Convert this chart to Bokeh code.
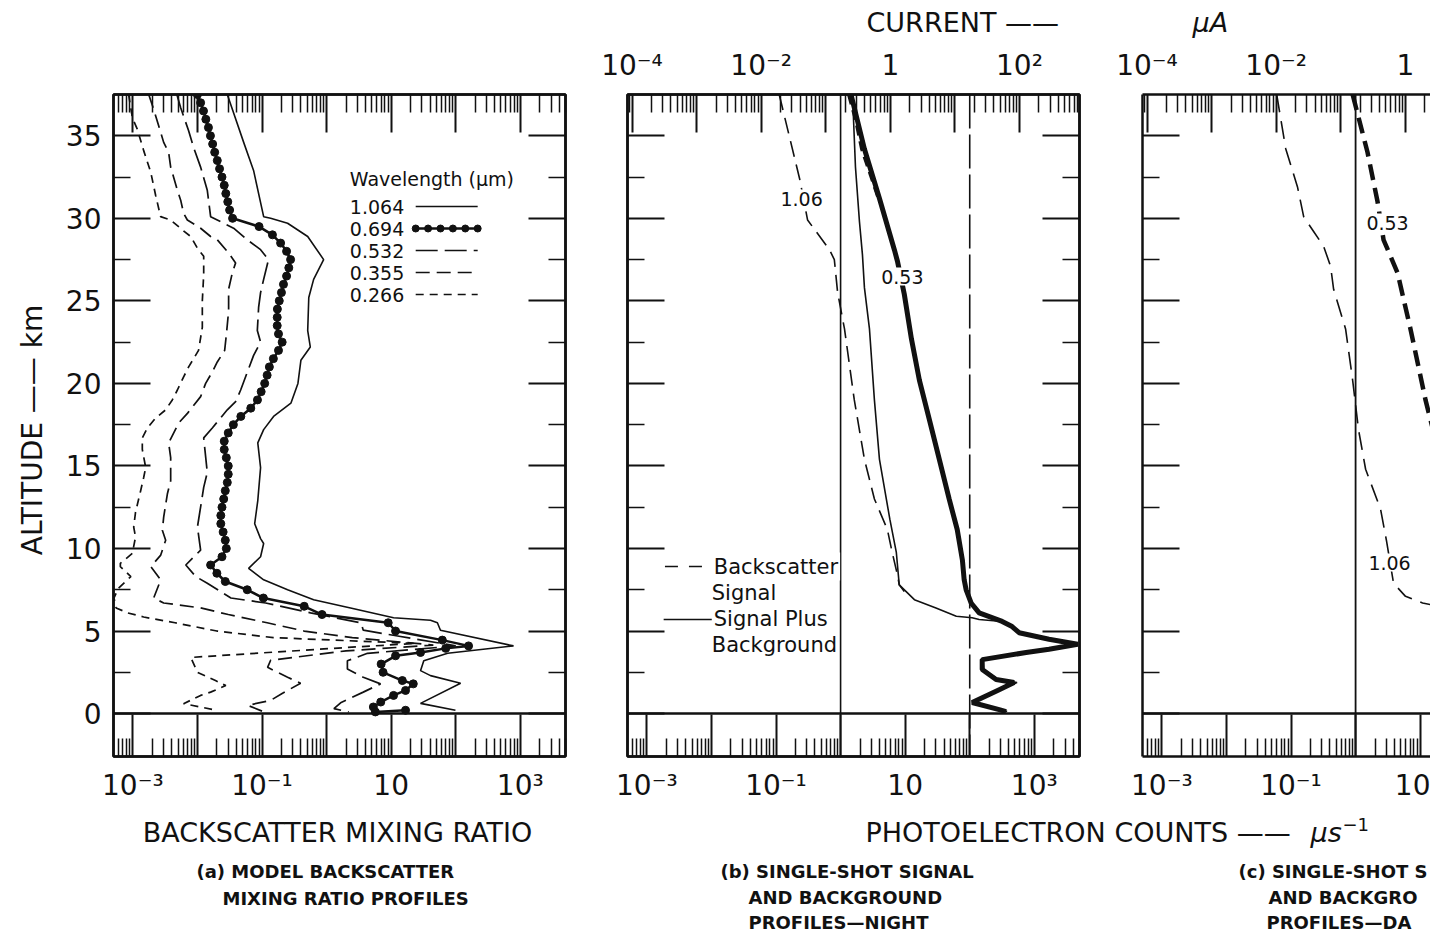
from bokeh.plotting import figure
from bokeh.models import (Range1d, LogAxis, LinearAxis, FixedTicker, CustomJSTickFormatter,
                          Span, Label, LogScale)
from bokeh.layouts import column, row
from bokeh.embed import file_html
from bokeh.resources import INLINE

FONT = "DejaVu Sans"
INK = "#111111"

# ---------------- data ----------------
# (a) model backscatter mixing ratio profiles: altitude (km) and mixing ratio
alt_1064 = [37.5, 34.6, 32.9, 30.1, 30.0, 29.7, 28.9, 27.5, 26.3, 25.2, 23.2, 22.2, 21.4, 20.0,
            18.8, 18.0, 17.2, 16.4, 14.9, 12.9, 11.5, 10.6, 10.3, 9.5, 8.8, 8.1, 7.5, 6.9, 6.4,
            5.8, 5.65, 5.5, 5.05, 4.1, 3.65, 3.2, 2.6, 2.3, 1.84, 0.62, 0.2]
ratio_1064 = [0.029, 0.052, 0.074, 0.106, 0.136, 0.249, 0.51, 0.90, 0.63, 0.53, 0.51, 0.56, 0.40,
              0.36, 0.28, 0.151, 0.106, 0.086, 0.095, 0.086, 0.077, 0.095, 0.106, 0.095, 0.062,
              0.106, 0.249, 0.63, 2.35, 10.9, 40.7, 52, 58, 785, 75, 32, 28.5, 40.7, 119, 28.5, 99]

alt_694 = [37.5, 37.0, 36.5, 36.0, 35.5, 35.0, 34.5, 34.0, 33.5, 33.0, 32.5, 32.0, 31.5, 31.0,
           30.5, 30.0, 29.5, 29.0, 28.5, 28.0, 27.5, 27.0, 26.5, 26.0, 25.5, 25.0, 24.5, 24.0,
           23.5, 23.0, 22.5, 22.0, 21.5, 21.0, 20.5, 20.0, 19.5, 19.0, 18.5, 18.0, 17.5, 17.0,
           16.5, 16.0, 15.5, 15.0, 14.5, 14.0, 13.5, 13.0, 12.5, 12.0, 11.5, 11.0, 10.5, 10.0,
           9.5, 9.0, 8.5, 8.0, 7.5, 7.0, 6.5, 6.0, 5.5, 5.0, 4.45, 4.1, 3.95, 3.7, 3.5, 3.0,
           2.5, 2.0, 1.8, 1.4, 1.1, 0.7, 0.4, 0.1, 0.2]
ratio_694 = [0.0100, 0.0112, 0.0124, 0.0135, 0.0148, 0.0159, 0.0172, 0.0185, 0.0203, 0.022,
             0.024, 0.026, 0.0275, 0.0295, 0.0315, 0.035, 0.09, 0.145, 0.194, 0.24, 0.277, 0.26,
             0.24, 0.215, 0.2, 0.185, 0.173, 0.172, 0.172, 0.18, 0.205, 0.18, 0.15, 0.13, 0.12,
             0.11, 0.097, 0.085, 0.067, 0.047, 0.036, 0.030, 0.026, 0.026, 0.028, 0.030, 0.030,
             0.029, 0.027, 0.0255, 0.024, 0.023, 0.023, 0.025, 0.027, 0.028, 0.024, 0.016, 0.020,
             0.027, 0.059, 0.105, 0.45, 0.85, 9.0, 11.7, 62, 158, 70, 28.5, 11.7, 7.0, 7.5, 14.9,
             22, 16.7, 10.9, 6.9, 5.3, 5.7, 16.7]

alt_532 = [37.5, 36.7, 35.3, 34.3, 33.1, 31.7, 30.1, 29.8, 29.4, 28.7, 28.1, 27.5, 26.3, 25.5,
           24.6, 23.2, 22.5, 21.7, 19.6, 18.9, 18.4, 17.3, 16.7, 14.6, 13.7, 11.3, 9.9, 9.0, 8.3,
           7.9, 7.0, 6.7, 6.1, 5.5, 5.05, 4.7, 4.1, 3.65, 3.2, 2.7, 2.2, 1.8, 1.3, 0.65, 0.3, 0.1]
ratio_532 = [0.0048, 0.0055, 0.0073, 0.0087, 0.0112, 0.0142, 0.016, 0.0229, 0.0363, 0.0592,
             0.095, 0.126, 0.106, 0.095, 0.0886, 0.0846, 0.095, 0.0741, 0.0467, 0.039, 0.029,
             0.017, 0.0125, 0.0142, 0.0125, 0.0100, 0.0112, 0.0066, 0.0094, 0.0142, 0.033, 0.114,
             0.565, 3.4, 3.7, 12.6, 100, 4.3, 2.1, 2.1, 3.7, 6.85, 3.7, 1.65, 1.3, 2.2]

alt_355 = [37.5, 36.6, 34.6, 34.0, 33.1, 31.7, 31.1, 30.3, 29.9, 29.4, 28.9, 28.7, 27.9, 27.3,
           26.7, 25.7, 24.4, 23.1, 22.0, 21.3, 20.7, 20.0, 19.2, 18.2, 17.6, 16.4, 15.5, 14.1,
           13.3, 11.9, 11.1, 10.5, 9.6, 8.9, 8.1, 7.0, 6.7, 6.4, 6.0, 5.5, 5.0, 4.6, 4.15, 3.8,
           3.23, 2.8, 2.2, 1.84, 1.23, 0.8, 0.5, 0.15]
ratio_355 = [0.00176, 0.0021, 0.0030, 0.00358, 0.00385, 0.00489, 0.0055, 0.00611, 0.00698, 0.0112,
             0.016, 0.0203, 0.0304, 0.039, 0.0347, 0.0304, 0.0304, 0.0283, 0.0264, 0.0203, 0.017,
             0.0134, 0.0112, 0.00705, 0.00512, 0.00358, 0.00385, 0.00385, 0.00342, 0.0030,
             0.00286, 0.00322, 0.0027, 0.0019, 0.0027, 0.0021, 0.0030, 0.0112, 0.030, 0.12, 0.45,
             2.5, 45, 2.0, 0.136, 0.122, 0.249, 0.396, 0.208, 0.136, 0.060, 0.10]

alt_266 = [37.5, 36.1, 35.4, 34.1, 32.8, 31.4, 30.1, 29.9, 29.3, 28.9, 28.2, 27.7, 26.6, 25.0,
           23.4, 22.0, 21.0, 20.4, 19.6, 19.0, 18.4, 17.9, 17.3, 16.7, 16.0, 14.9, 14.3, 13.5,
           13.0, 12.2, 11.3, 10.7, 9.7, 9.1, 8.9, 8.3, 7.6, 7.0, 6.4, 6.1, 5.85, 5.5, 5.0, 4.6,
           4.25, 4.0, 3.4, 2.5, 2.0, 1.7, 1.3, 1.1, 0.6, 0.2]
ratio_266 = [0.00086, 0.00098, 0.00117, 0.00147, 0.00189, 0.00225, 0.00269, 0.00385, 0.00583,
             0.00785, 0.00996, 0.0125, 0.0125, 0.0119, 0.0119, 0.0104, 0.00731, 0.00611, 0.00489,
             0.00408, 0.00322, 0.00225, 0.00168, 0.0014, 0.0014, 0.00158, 0.00147, 0.00132,
             0.00123, 0.0011, 0.00103, 0.0011, 0.00098, 0.00064, 0.00064, 0.00093, 0.00060,
             0.00051, 0.00055, 0.00083, 0.00147, 0.0045, 0.020, 0.15, 24, 2.0, 0.0079, 0.010,
             0.019, 0.0275, 0.016, 0.0112, 0.0061, 0.020]

wavelengths = ["1.064", "0.694", "0.532", "0.355", "0.266"]

# (b) single-shot night profiles: photoelectron counts per microsecond
alt_b_bs106 = [37.5, 32.4, 29.9, 28.1, 27.5, 25.5, 23.3, 19.0, 15.4, 13.0, 11.15, 9.76, 8.4, 7.8, 7.4]
cnt_b_bs106 = [0.112, 0.232, 0.308, 0.673, 0.80, 0.90, 1.15, 1.63, 2.34, 3.34, 5.3, 6.3, 7.6, 8.1, 9.7]

alt_b_sb106 = [37.5, 33.1, 29.8, 27.8, 25.8, 23.3, 19.0, 15.4, 11.76, 9.76, 7.8, 6.9, 6.4, 5.9,
               5.8, 5.7, 5.58, 5.27, 4.9, 4.5, 4.2, 3.9, 3.7, 3.27, 2.67, 2.06, 1.88, 1.45, 0.67,
               0.24, 0.12]
cnt_b_sb106 = [1.53, 1.70, 1.96, 2.18, 2.34, 2.8, 3.34, 4.0, 5.8, 7.3, 8.1, 13.9, 30, 62, 109,
               140, 318, 453, 582, 1690, 4700, 1690, 747, 160, 165, 280, 540, 300, 115, 300, 380]

alt_b_sb053 = [37.5, 34.2, 31.2, 28.1, 27.4, 25.4, 22.7, 20.2, 17.8, 15.4, 13.0, 11.15, 9.3, 8.1,
               7.5, 6.7, 6.1, 5.58, 5.27, 4.9, 4.5, 4.2, 3.9, 3.7, 3.27, 2.67, 2.06, 1.88, 1.45,
               0.67, 0.24, 0.12]
cnt_b_sb053 = [1.45, 2.34, 4.0, 6.8, 7.6, 9.7, 12.5, 16.6, 23.7, 33.8, 48, 64, 77, 82, 88, 105,
               140, 318, 453, 582, 1690, 4700, 1690, 747, 156, 156, 256, 487, 286, 109, 286, 366]

alt_b_bs053 = [37.5, 36.0, 34.2, 32.7, 31.2]
cnt_b_bs053 = [1.35, 1.72, 2.15, 2.9, 3.9]

# (c) single-shot day profiles
alt_c_bs106 = [37.5, 34.2, 31.9, 30.1, 29.2, 28.3, 27.1, 25.7, 23.3, 20.2, 17.2, 14.8, 12.4, 10.5,
               7.9, 7.1, 6.7, 6.36]
cnt_c_bs106 = [0.060, 0.083, 0.126, 0.157, 0.224, 0.32, 0.41, 0.457, 0.70, 0.90, 1.11, 1.43, 2.43,
               3.0, 3.87, 5.93, 10.9, 29]

alt_c_bs053 = [37.5, 34.0, 31.0, 28.7, 26.7, 23.3, 19.0, 15.4]
cnt_c_bs053 = [0.90, 1.53, 2.19, 2.71, 4.46, 7.08, 12.1, 20.6]

count_levels_night = [1.0, 100.0]   # solid, dashed reference levels
count_levels_day = [1.0]

# ---------------- layout constants ----------------
X_LO = -3.3                 # log10 of the left frame edge (counts / mixing ratio)
DEC_PX = 452 / 7.0          # pixels per decade
CUR_SHIFT = -0.77           # log10(current uA) - log10(counts us^-1)
Y_LO, Y_HI = -2.6, 37.5
FRAME_H = 662
ROW_TOP = 40                # page y of the panel row
FRAME_TOP = ROW_TOP + 54    # page y of the frame top
KM_PX = FRAME_H / (Y_HI - Y_LO)

LOG_MAJOR = [10.0 ** e for e in range(-5, 5)]
LOG_MINOR = [k * 10.0 ** e for e in range(-5, 5) for k in range(2, 10)]
ALT_MAJOR = [0, 5, 10, 15, 20, 25, 30, 35]
ALT_MINOR = [2.5, 7.5, 12.5, 17.5, 22.5, 27.5, 32.5]

MINUS = "\u2212"

# decade labels: "1", "10" or 10 with a superscript exponent; only every other decade is written
SUP_CODE = """
const sup = {"-": "\u207b", "0": "\u2070", "1": "\u00b9", "2": "\u00b2", "3": "\u00b3",
             "4": "\u2074", "5": "\u2075", "6": "\u2076", "7": "\u2077", "8": "\u2078", "9": "\u2079"};
const e = Math.round(Math.log10(tick));
if ((((e % 2) + 2) % 2) != PARITY) { return ""; }
if (e == 0) { return "1"; }
if (e == 1) { return "10"; }
return "10" + String(e).split("").map((c) => sup[c]).join("");
"""


def page_y(py):
    """altitude coordinate that sits at page row py"""
    return Y_HI - (py - FRAME_TOP) / KM_PX


def sup_formatter(parity):
    return CustomJSTickFormatter(code=SUP_CODE.replace("PARITY", str(parity)))


def blank_formatter():
    return CustomJSTickFormatter(code='return "";')


def style_axis(ax, major_in, minor_in):
    ax.axis_line_color = INK
    ax.axis_line_width = 2.5
    ax.major_tick_in = major_in
    ax.major_tick_out = 0
    ax.minor_tick_in = minor_in
    ax.minor_tick_out = 0
    ax.major_tick_line_color = INK
    ax.minor_tick_line_color = INK
    ax.major_tick_line_width = 2
    ax.minor_tick_line_width = 1.5
    ax.major_label_text_font = FONT
    ax.major_label_text_font_size = "28px"
    ax.major_label_text_color = INK
    ax.major_label_standoff = 0


def add_text(p, x, y, text, size, align="left", style="normal", mask=False):
    lab = Label(x=x, y=y, text=text, text_font=FONT, text_font_size=size, text_color=INK,
                text_align=align, text_baseline="middle", text_font_style=style)
    if mask:
        lab.background_fill_color = "white"
        lab.padding = 2
    p.add_layout(lab)


def make_panel(frame_w, border_left, border_right, y_labels, top_labels, right_axis, outline):
    x_hi = X_LO + frame_w / DEC_PX
    p = figure(x_axis_type="log", x_range=Range1d(10 ** X_LO, 10 ** x_hi),
               y_range=Range1d(Y_LO, Y_HI), frame_width=frame_w, frame_height=FRAME_H,
               min_border_left=border_left, min_border_right=border_right,
               min_border_top=54, min_border_bottom=56,
               output_backend="svg", toolbar_location=None)
    p.grid.visible = False
    p.background_fill_color = "white"
    p.border_fill_color = "white"
    if outline:
        p.outline_line_color = INK
        p.outline_line_width = 2.5
        p.outline_line_alpha = 1.0
    else:
        p.outline_line_color = None

    bottom = p.xaxis[0]
    bottom.ticker = FixedTicker(ticks=LOG_MAJOR, minor_ticks=LOG_MINOR)
    bottom.formatter = sup_formatter(1)
    style_axis(bottom, 42, 18)
    bottom.major_label_standoff = 12

    left = p.yaxis[0]
    left.ticker = FixedTicker(ticks=ALT_MAJOR, minor_ticks=ALT_MINOR)
    style_axis(left, 37, 17)
    if y_labels:
        left.major_label_standoff = 12
    else:
        left.formatter = blank_formatter()

    if top_labels:
        p.extra_x_ranges = {"cur": Range1d(10 ** (X_LO + CUR_SHIFT), 10 ** (x_hi + CUR_SHIFT))}
        p.extra_x_scales = {"cur": LogScale()}
        top = LogAxis(x_range_name="cur", ticker=FixedTicker(ticks=LOG_MAJOR, minor_ticks=LOG_MINOR),
                      formatter=sup_formatter(0))
    else:
        top = LogAxis(ticker=FixedTicker(ticks=LOG_MAJOR, minor_ticks=LOG_MINOR),
                      formatter=blank_formatter())
    style_axis(top, 38, 18)
    top.major_label_standoff = 13
    p.add_layout(top, "above")

    if right_axis:
        right = LinearAxis(ticker=FixedTicker(ticks=ALT_MAJOR, minor_ticks=ALT_MINOR),
                           formatter=blank_formatter())
        style_axis(right, 37, 17)
        p.add_layout(right, "right")

    # ground level separating the profiles from the bottom tick strip
    p.add_layout(Span(location=0, dimension="width", line_color=INK, line_width=2.5))
    return p


# ---------------- panel (a) ----------------
pa = make_panel(452, 113, 31, y_labels=True, top_labels=False, right_axis=True, outline=True)
ya = pa.yaxis[0]
ya.axis_label = "ALTITUDE \u2014\u2014  km"
ya.axis_label_text_font = FONT
ya.axis_label_text_font_size = "28px"
ya.axis_label_text_font_style = "normal"
ya.axis_label_text_color = INK
ya.axis_label_standoff = 14

styles_a = {
    "1.064": dict(line_width=1.6, line_dash="solid"),
    "0.532": dict(line_width=1.7, line_dash="22 7"),
    "0.355": dict(line_width=1.7, line_dash="14 7"),
    "0.266": dict(line_width=1.7, line_dash="8 6"),
}
pa.line(ratio_1064, alt_1064, line_color=INK, **styles_a["1.064"])
pa.line(ratio_532, alt_532, line_color=INK, **styles_a["0.532"])
pa.line(ratio_355, alt_355, line_color=INK, **styles_a["0.355"])
pa.line(ratio_266, alt_266, line_color=INK, **styles_a["0.266"])
pa.line(ratio_694, alt_694, line_color=INK, line_width=2.5)
pa.scatter(ratio_694, alt_694, size=8, color=INK)

# legend block
leg_x_text = 10 ** 0.36
leg_x0, leg_x1 = 10 ** 1.38, 10 ** 2.34
leg_rows = [page_y(206), page_y(228), page_y(250), page_y(272), page_y(294)]
add_text(pa, leg_x_text, page_y(178), "Wavelength (\u03bcm)", "19px")
for name, yy in zip(wavelengths, leg_rows):
    add_text(pa, leg_x_text, yy, name, "19px")
    if name == "0.694":
        pa.line([leg_x0, leg_x1], [yy, yy], line_color=INK, line_width=2.5)
        xs = [10 ** (1.38 + i * 0.192) for i in range(6)]
        pa.scatter(xs, [yy] * 6, size=7, color=INK)
    else:
        pa.line([leg_x0, leg_x1], [yy, yy], line_color=INK, **styles_a[name])

# ---------------- panel (b) ----------------
pb = make_panel(452, 31, 31, y_labels=False, top_labels=True, right_axis=True, outline=True)
pb.add_layout(Span(location=count_levels_night[0], dimension="height", line_color=INK, line_width=1.6))
pb.add_layout(Span(location=count_levels_night[1], dimension="height", line_color=INK,
                   line_width=1.6, line_dash="34 6"))
pb.line(cnt_b_bs106, alt_b_bs106, line_color=INK, line_width=1.6, line_dash="16 8")
pb.line(cnt_b_sb106, alt_b_sb106, line_color=INK, line_width=1.6)
pb.line(cnt_b_sb053, alt_b_sb053, line_color=INK, line_width=5)
pb.line(cnt_b_bs053, alt_b_bs053, line_color=INK, line_width=4, line_dash="10 6")
add_text(pb, 10 ** -0.604, page_y(198), "1.06", "19px", align="center", mask=True)
add_text(pb, 10 ** 0.957, page_y(276), "0.53", "19px", align="center", mask=True)

# legend block
lx_text = 10 ** -1.995
pb.line([10 ** -2.72, 10 ** -2.09], [page_y(566), page_y(566)], line_color=INK, line_width=1.6,
        line_dash="13 11")
pb.line([10 ** -2.74, 10 ** -1.99], [page_y(619), page_y(619)], line_color=INK, line_width=1.6)
add_text(pb, lx_text, page_y(566), "Backscatter", "21px", mask=True)
add_text(pb, lx_text, page_y(592), "Signal", "21px")
add_text(pb, lx_text, page_y(618), "Signal Plus", "21px", mask=True)
add_text(pb, lx_text, page_y(644), "Background", "21px")

# ---------------- panel (c) ----------------
pc = make_panel(288, 32, 0, y_labels=False, top_labels=True, right_axis=False, outline=False)
pc.add_layout(Span(location=count_levels_day[0], dimension="height", line_color=INK, line_width=1.8))
pc.line(cnt_c_bs106, alt_c_bs106, line_color=INK, line_width=1.6, line_dash="18 9")
pc.line(cnt_c_bs053, alt_c_bs053, line_color=INK, line_width=4.5, line_dash="16 8")
add_text(pc, 10 ** 0.495, page_y(222), "0.53", "19px", align="center", mask=True)
add_text(pc, 10 ** 0.526, page_y(562), "1.06", "19px", align="center", mask=True)


# ---------------- title strips ----------------
def text_strip(h):
    s = figure(width=1430, height=h, x_range=Range1d(0, 1430), y_range=Range1d(h, 0),
               x_axis_location=None, y_axis_location=None, min_border=0,
               toolbar_location=None, output_backend="svg")
    s.grid.visible = False
    s.outline_line_color = None
    s.background_fill_color = "white"
    s.border_fill_color = "white"
    return s


top_strip = text_strip(40)
add_text(top_strip, 866, 22, "CURRENT \u2014\u2014", "27px")
add_text(top_strip, 1192, 22, "\u03bcA", "27px", style="italic")

bottom_strip = text_strip(124)
add_text(bottom_strip, 337, 20, "BACKSCATTER MIXING RATIO", "27px", align="center")
add_text(bottom_strip, 865, 20, "PHOTOELECTRON COUNTS \u2014\u2014", "27px")
add_text(bottom_strip, 1310, 20, "\u03bcs", "27px", style="italic")
add_text(bottom_strip, 1342, 12, MINUS + "1", "18px")

cap = "18px"
add_text(bottom_strip, 196, 59, "(a) MODEL BACKSCATTER", cap, style="bold")
add_text(bottom_strip, 222, 86, "MIXING RATIO PROFILES", cap, style="bold")
add_text(bottom_strip, 720, 59, "(b) SINGLE-SHOT SIGNAL", cap, style="bold")
add_text(bottom_strip, 748, 85, "AND BACKGROUND", cap, style="bold")
add_text(bottom_strip, 748, 110, "PROFILES\u2014NIGHT", cap, style="bold")
add_text(bottom_strip, 1238, 59, "(c) SINGLE-SHOT S", cap, style="bold")
add_text(bottom_strip, 1268, 85, "AND BACKGRO", cap, style="bold")
add_text(bottom_strip, 1266, 110, "PROFILES\u2014DA", cap, style="bold")

layout = column(top_strip, row(pa, pb, pc), bottom_strip)

with open("out.html", "w", encoding="utf-8") as fh:
    fh.write(file_html(layout, INLINE))
